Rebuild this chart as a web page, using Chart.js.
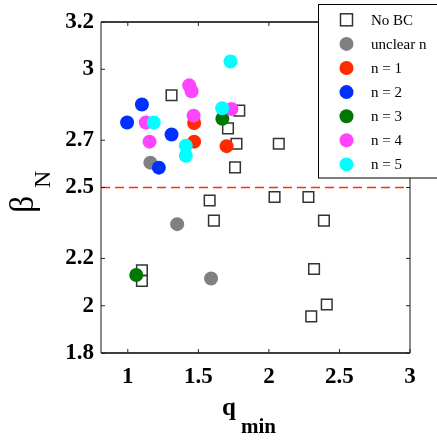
<!DOCTYPE html>
<html>
<head>
<meta charset="utf-8">
<script src="https://cdn.jsdelivr.net/npm/chart.js@4"></script>
<style>
  body { margin: 0; background: #fff; }
  #wrap { width: 437px; height: 441px; position: relative; }
</style>
</head>
<body>
<div id="wrap"><canvas id="betaChart"></canvas></div>
<script>
// axis ticks
const xTicks = [1, 1.5, 2, 2.5, 3];
const yTicks = [1.8, 2, 2.2, 2.5, 2.7, 3, 3.2];
const betaLimit = 2.5;

// series (q_min, beta_N)
const noBcQ    = [1.31, 1.79, 1.71, 1.77, 1.76, 2.07, 1.58, 2.04, 2.28, 1.61, 2.39, 2.32, 2.41, 2.30, 1.10, 1.10];
const noBcBeta = [2.89, 2.825, 2.75, 2.685, 2.585, 2.685, 2.445, 2.46, 2.46, 2.36, 2.36, 2.155, 2.005, 1.955, 2.15, 2.105];
const unclearQ    = [1.16, 1.35, 1.59];
const unclearBeta = [2.605, 2.345, 2.115];
const n1Q    = [1.47, 1.47, 1.70];
const n1Beta = [2.773, 2.694, 2.675];
const n2Q    = [1.10, 0.995, 1.31, 1.22];
const n2Beta = [2.851, 2.775, 2.724, 2.584];
const n3Q    = [1.67, 1.06];
const n3Beta = [2.791, 2.13];
const n4Q    = [1.435, 1.452, 1.128, 1.466, 1.154, 1.735];
const n4Beta = [2.932, 2.907, 2.775, 2.804, 2.694, 2.832];
const n5Q    = [1.728, 1.184, 1.411, 1.411, 1.669];
const n5Beta = [3.033, 2.775, 2.677, 2.634, 2.835];

const labels = ['No BC', 'unclear n', 'n = 1', 'n = 2', 'n = 3', 'n = 4', 'n = 5'];
const colors = ['#333333', '#808080', '#ff2a00', '#0030ff', '#007800', '#ff44ff', '#00ffff'];

function pts(xs, ys) {
    return xs.map((q, i) => ({ x: q, y: ys[i] }));
}

const seriesQ = [noBcQ, unclearQ, n1Q, n2Q, n3Q, n4Q, n5Q];
const seriesBeta = [noBcBeta, unclearBeta, n1Beta, n2Beta, n3Beta, n4Beta, n5Beta];

const datasets = labels.map((lab, i) => {
    const square = i === 0;
    return {
        label: lab,
        data: pts(seriesQ[i], seriesBeta[i]),
        pointStyle: square ? 'rect' : 'circle',
        pointRadius: square ? 7.5 : 7,
        backgroundColor: square ? 'rgba(0,0,0,0)' : colors[i],
        borderColor: colors[i],
        borderWidth: square ? 1.5 : 0,
        order: labels.length - i
    };
});

const serif = "'Liberation Serif', 'Times New Roman', serif";

const frame = {
    id: 'frame',
    beforeDatasetsDraw(chart) {
        const { ctx, chartArea: a, scales: { x, y } } = chart;
        ctx.save();
        // dashed beta limit
        const yl = y.getPixelForValue(betaLimit);
        ctx.strokeStyle = '#ff3000';
        ctx.lineWidth = 1.3;
        ctx.setLineDash([9, 5]);
        ctx.beginPath();
        ctx.moveTo(a.left, yl);
        ctx.lineTo(a.right, yl);
        ctx.stroke();
        ctx.setLineDash([]);

        // box
        ctx.lineWidth = 1.5;
        ctx.strokeStyle = '#000';
        ctx.beginPath();
        ctx.moveTo(a.left, a.top); ctx.lineTo(a.right, a.top);
        ctx.moveTo(a.left, a.bottom); ctx.lineTo(a.right, a.bottom);
        ctx.stroke();
        ctx.strokeStyle = '#666';
        ctx.beginPath();
        ctx.moveTo(a.left, a.top); ctx.lineTo(a.left, a.bottom);
        ctx.moveTo(a.right, a.top); ctx.lineTo(a.right, a.bottom);
        ctx.stroke();

        // inward ticks
        const tl = 4;
        ctx.lineWidth = 1;
        ctx.strokeStyle = '#222';
        ctx.beginPath();
        xTicks.forEach(v => {
            const px = x.getPixelForValue(v);
            ctx.moveTo(px, a.bottom); ctx.lineTo(px, a.bottom - tl);
            ctx.moveTo(px, a.top); ctx.lineTo(px, a.top + tl);
        });
        yTicks.forEach(v => {
            const py = y.getPixelForValue(v);
            ctx.moveTo(a.left, py); ctx.lineTo(a.left + tl, py);
            ctx.moveTo(a.right, py); ctx.lineTo(a.right - tl, py);
        });
        ctx.stroke();
        ctx.restore();
    },
    afterDraw(chart) {
        const { ctx } = chart;
        ctx.save();
        // axis titles
        ctx.fillStyle = '#000';
        ctx.textAlign = 'left';
        ctx.textBaseline = 'alphabetic';
        ctx.font = 'bold 25px ' + serif;
        ctx.fillText('q', 222, 415);
        ctx.font = 'bold 21px ' + serif;
        ctx.fillText('min', 241, 433);

        ctx.save();
        ctx.rotate(-Math.PI / 2);
        ctx.font = '34px ' + serif;
        ctx.fillText('β', -213, 33);
        ctx.font = '24px ' + serif;
        ctx.fillText('N', -188, 50);
        ctx.restore();

        // legend box
        const lx = 318, ly = 4.5;
        ctx.fillStyle = '#fff';
        ctx.fillRect(lx, ly, 140, 173.5);
        ctx.strokeStyle = '#000';
        ctx.lineWidth = 1;
        ctx.strokeRect(lx + 0.5, ly, 140, 173.5);
        ctx.font = '15px ' + serif;
        ctx.textBaseline = 'middle';
        labels.forEach((lab, i) => {
            const cy = 19.8 + i * 24.1;
            if (i === 0) {
                ctx.strokeStyle = '#333';
                ctx.lineWidth = 1.5;
                ctx.strokeRect(340.5, cy - 6, 12, 12);
            } else {
                ctx.fillStyle = colors[i];
                ctx.beginPath();
                ctx.arc(346.5, cy, 7, 0, Math.PI * 2);
                ctx.fill();
            }
            ctx.fillStyle = '#000';
            ctx.fillText(lab, 371, cy + 1);
        });
        ctx.restore();
    }
};

const tickFont = { family: serif, size: 23, weight: 'bold' };

new Chart(document.getElementById('betaChart'), {
    type: 'scatter',
    data: { datasets: datasets },
    options: {
        responsive: true,
        maintainAspectRatio: false,
        animation: false,
        layout: { padding: { left: 0, top: 22, right: 27, bottom: 0 } },
        plugins: { legend: { display: false }, tooltip: { enabled: false } },
        scales: {
            x: {
                type: 'linear',
                min: 0.81,
                max: 3,
                grid: { display: false, drawTicks: false },
                border: { display: false },
                afterBuildTicks: s => { s.ticks = xTicks.map(v => ({ value: v })); },
                afterFit: s => { s.height = 88; },
                ticks: { font: tickFont, color: '#000', padding: 10, maxRotation: 0, autoSkip: false,
                         callback: v => String(v) }
            },
            y: {
                type: 'linear',
                min: 1.8,
                max: 3.2,
                grid: { display: false, drawTicks: false },
                border: { display: false },
                afterBuildTicks: s => { s.ticks = yTicks.map(v => ({ value: v })); },
                afterFit: s => { s.width = 101; },
                ticks: { font: tickFont, color: '#000', padding: 7, autoSkip: false,
                         callback: v => String(v) }
            }
        }
    },
    plugins: [frame]
});
</script>
</body>
</html>
